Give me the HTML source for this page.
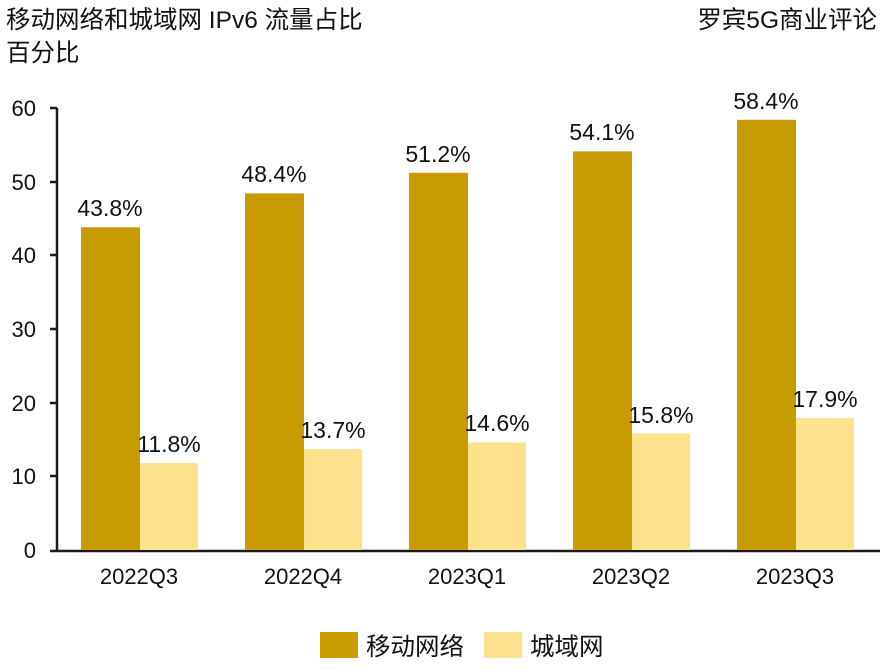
<!DOCTYPE html>
<html><head><meta charset="utf-8"><style>
body{margin:0;background:#fff;width:883px;height:667px;overflow:hidden}
svg text{font-family:"Liberation Sans","Noto Sans CJK SC",sans-serif;fill:#111}
</style></head><body>
<svg width="883" height="667" xmlns="http://www.w3.org/2000/svg">
<text x="6" y="28" font-size="24.5">移动网络和城域网 IPv6 流量占比</text>
<text x="6" y="61" font-size="24.5">百分比</text>
<text x="877" y="28" font-size="24.5" text-anchor="end">罗宾5G商业评论</text>
<g font-size="22" text-anchor="end" font-family="Liberation Mono,monospace">
<text x="36" y="116">60</text><text x="36" y="190">50</text><text x="36" y="263">40</text>
<text x="36" y="337">30</text><text x="36" y="411">20</text><text x="36" y="484">10</text><text x="36" y="558">0</text>
</g>
<g stroke="#1a1a1a" stroke-width="2.5">
<line x1="57" y1="108" x2="57" y2="551"/>
<line x1="50" y1="108" x2="57" y2="108"/><line x1="50" y1="182" x2="57" y2="182"/>
<line x1="50" y1="255" x2="57" y2="255"/><line x1="50" y1="329" x2="57" y2="329"/>
<line x1="50" y1="403" x2="57" y2="403"/><line x1="50" y1="476" x2="57" y2="476"/>
<line x1="50" y1="551" x2="880" y2="551"/>
</g>
<g font-size="23" text-anchor="middle">
<rect x="81" y="227.3" width="59" height="322.7" fill="#C89B00"/><rect x="140" y="463.1" width="58" height="86.9" fill="#FDE18C"/>
<text x="110" y="216">43.8%</text><text x="169" y="452">11.8%</text><text x="139" y="584" font-family="Liberation Mono,monospace" font-size="22">2022Q3</text>
<rect x="245" y="193.4" width="59" height="356.6" fill="#C89B00"/><rect x="304" y="449.1" width="58" height="100.9" fill="#FDE18C"/>
<text x="274" y="182">48.4%</text><text x="333" y="438">13.7%</text><text x="303" y="584" font-family="Liberation Mono,monospace" font-size="22">2022Q4</text>
<rect x="409" y="172.8" width="59" height="377.2" fill="#C89B00"/><rect x="468" y="442.4" width="58" height="107.6" fill="#FDE18C"/>
<text x="438" y="162">51.2%</text><text x="497" y="431">14.6%</text><text x="467" y="584" font-family="Liberation Mono,monospace" font-size="22">2023Q1</text>
<rect x="573" y="151.4" width="59" height="398.6" fill="#C89B00"/><rect x="632" y="433.6" width="58" height="116.4" fill="#FDE18C"/>
<text x="602" y="140">54.1%</text><text x="661" y="423">15.8%</text><text x="631" y="584" font-family="Liberation Mono,monospace" font-size="22">2023Q2</text>
<rect x="737" y="119.8" width="59" height="430.2" fill="#C89B00"/><rect x="796" y="418.1" width="58" height="131.9" fill="#FDE18C"/>
<text x="766" y="109">58.4%</text><text x="825" y="407">17.9%</text><text x="795" y="584" font-family="Liberation Mono,monospace" font-size="22">2023Q3</text>
</g>
<rect x="320" y="632" width="38" height="26" fill="#C89B00"/>
<text x="366" y="655" font-size="24.5">移动网络</text>
<rect x="484" y="632" width="38" height="26" fill="#FDE18C"/>
<text x="530" y="655" font-size="24.5">城域网</text>
</svg>
</body></html>
